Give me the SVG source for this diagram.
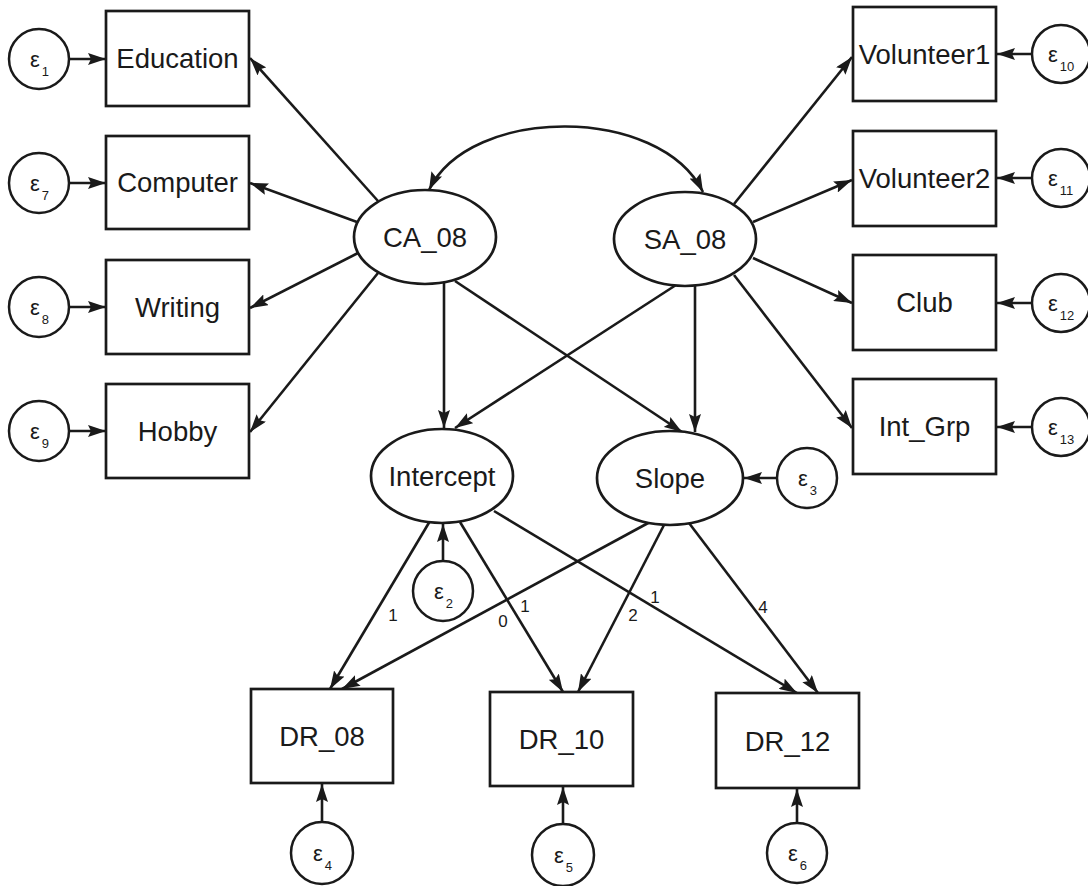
<svg xmlns="http://www.w3.org/2000/svg" width="1088" height="886" viewBox="0 0 1088 886">
<style>
.box{fill:#fff;stroke:#1a1a1a;stroke-width:2.7}
.lat{fill:#fff;stroke:#1a1a1a;stroke-width:2.7}
.err{fill:#fff;stroke:#1a1a1a;stroke-width:2.5}
.lbl{font-family:"Liberation Sans",Arial,sans-serif;font-size:27.5px;fill:#1a1a1a;text-anchor:middle}
.eps{font-family:"Liberation Sans",Arial,sans-serif;font-size:22px;fill:#1a1a1a}
.sub{font-size:13px;fill:#1a1a1a}
.num{font-family:"Liberation Sans",Arial,sans-serif;font-size:17px;fill:#1a1a1a;text-anchor:middle}
.c line,.c path{stroke:#1a1a1a;stroke-width:2.6;fill:none;marker-end:url(#ah)}
</style>
<defs>
<marker id="ah" viewBox="0 0 18 12" refX="18" refY="6" markerWidth="18" markerHeight="12" orient="auto-start-reverse" markerUnits="userSpaceOnUse">
<path d="M0,0 L18,6 L0,12 L3,6 z" fill="#1a1a1a"/>
</marker>
</defs>
<rect width="1088" height="886" fill="#fff"/>

<g id="connectors" class="c">
<line x1="70" y1="59" x2="106" y2="59"/>
<line x1="70" y1="183" x2="106" y2="183"/>
<line x1="70" y1="307" x2="106" y2="307"/>
<line x1="70" y1="431" x2="106" y2="431"/>
<line x1="1032" y1="54" x2="997" y2="54"/>
<line x1="1032" y1="178" x2="997" y2="178"/>
<line x1="1032" y1="303" x2="997" y2="303"/>
<line x1="1032" y1="427" x2="997" y2="427"/>
<line x1="378" y1="201" x2="250" y2="58"/>
<line x1="357" y1="222" x2="250" y2="183"/>
<line x1="358" y1="253" x2="250" y2="308"/>
<line x1="378" y1="273" x2="250" y2="432"/>
<line x1="734" y1="204" x2="852" y2="57"/>
<line x1="753" y1="222" x2="852" y2="180"/>
<line x1="753" y1="258" x2="852" y2="303"/>
<line x1="734" y1="275" x2="852" y2="428"/>
<path d="M 429 190 C 470 105 660 105 703 192" style="marker-start:url(#ah)"/>
<line x1="444" y1="283" x2="444" y2="428"/>
<line x1="455" y1="281" x2="682" y2="432"/>
<line x1="676" y1="285" x2="455" y2="428"/>
<line x1="695" y1="285" x2="695" y2="432"/>
<line x1="443" y1="561" x2="443" y2="524"/>
<line x1="777" y1="478" x2="744" y2="478"/>
<line x1="430" y1="521" x2="330" y2="689"/>
<line x1="650" y1="522" x2="342" y2="689"/>
<line x1="460" y1="522" x2="563" y2="692"/>
<line x1="664" y1="525" x2="578" y2="692"/>
<line x1="494" y1="511" x2="797" y2="693"/>
<line x1="689" y1="523" x2="818" y2="693"/>
<line x1="322" y1="823" x2="322" y2="784"/>
<line x1="563" y1="825" x2="563" y2="787"/>
<line x1="797" y1="823" x2="797" y2="789"/>
</g>

<g id="labels">
<text class="num" x="393" y="621">1</text>
<text class="num" x="503" y="627">0</text>
<text class="num" x="525" y="612">1</text>
<text class="num" x="633" y="621">2</text>
<text class="num" x="655" y="603">1</text>
<text class="num" x="763" y="613">4</text>
</g>

<g id="Education"><rect class="box" x="106" y="11" width="143" height="95"/><text class="lbl" x="177.5" y="68">Education</text></g>
<g id="Computer"><rect class="box" x="106" y="136" width="143" height="93"/><text class="lbl" x="177.5" y="192">Computer</text></g>
<g id="Writing"><rect class="box" x="106" y="260" width="143" height="94"/><text class="lbl" x="177.5" y="317">Writing</text></g>
<g id="Hobby"><rect class="box" x="106" y="384" width="143" height="94"/><text class="lbl" x="177.5" y="441">Hobby</text></g>

<g id="Volunteer1"><rect class="box" x="853" y="7" width="143" height="94"/><text class="lbl" x="924.5" y="64">Volunteer1</text></g>
<g id="Volunteer2"><rect class="box" x="853" y="131" width="143" height="95"/><text class="lbl" x="924.5" y="188">Volunteer2</text></g>
<g id="Club"><rect class="box" x="853" y="255" width="143" height="95"/><text class="lbl" x="924.5" y="312">Club</text></g>
<g id="Int_Grp"><rect class="box" x="853" y="379" width="143" height="95"/><text class="lbl" x="924.5" y="436">Int_Grp</text></g>

<g id="CA_08"><ellipse class="lat" cx="425" cy="237" rx="71" ry="47"/><text class="lbl" x="425" y="247">CA_08</text></g>
<g id="SA_08"><ellipse class="lat" cx="685" cy="239" rx="71" ry="47"/><text class="lbl" x="685" y="249">SA_08</text></g>
<g id="Intercept"><ellipse class="lat" cx="442" cy="476" rx="71" ry="47"/><text class="lbl" x="442" y="486">Intercept</text></g>
<g id="Slope"><ellipse class="lat" cx="670" cy="478" rx="73" ry="47"/><text class="lbl" x="670" y="488">Slope</text></g>

<g id="DR_08"><rect class="box" x="251" y="689" width="142" height="94"/><text class="lbl" x="322" y="746">DR_08</text></g>
<g id="DR_10"><rect class="box" x="490" y="692" width="143" height="94"/><text class="lbl" x="561.5" y="749">DR_10</text></g>
<g id="DR_12"><rect class="box" x="716" y="693" width="143" height="95"/><text class="lbl" x="787.5" y="751">DR_12</text></g>

<g id="e1"><circle class="err" cx="39" cy="59" r="30"/><text class="eps" x="30" y="67">ε<tspan class="sub" dx="2" dy="9">1</tspan></text></g>
<g id="e7"><circle class="err" cx="39" cy="183" r="30"/><text class="eps" x="30" y="191">ε<tspan class="sub" dx="2" dy="9">7</tspan></text></g>
<g id="e8"><circle class="err" cx="39" cy="307" r="30"/><text class="eps" x="30" y="315">ε<tspan class="sub" dx="2" dy="9">8</tspan></text></g>
<g id="e9"><circle class="err" cx="39" cy="431" r="30"/><text class="eps" x="30" y="439">ε<tspan class="sub" dx="2" dy="9">9</tspan></text></g>

<g id="e10"><circle class="err" cx="1061" cy="54" r="29"/><text class="eps" x="1048" y="62">ε<tspan class="sub" dx="2" dy="9">10</tspan></text></g>
<g id="e11"><circle class="err" cx="1061" cy="178" r="29"/><text class="eps" x="1048" y="186">ε<tspan class="sub" dx="2" dy="9">11</tspan></text></g>
<g id="e12"><circle class="err" cx="1061" cy="303" r="29"/><text class="eps" x="1048" y="311">ε<tspan class="sub" dx="2" dy="9">12</tspan></text></g>
<g id="e13"><circle class="err" cx="1061" cy="427" r="29"/><text class="eps" x="1048" y="435">ε<tspan class="sub" dx="2" dy="9">13</tspan></text></g>

<g id="e2"><circle class="err" cx="443" cy="591" r="30"/><text class="eps" x="434" y="599">ε<tspan class="sub" dx="2" dy="9">2</tspan></text></g>
<g id="e3"><circle class="err" cx="807" cy="478" r="30"/><text class="eps" x="798" y="486">ε<tspan class="sub" dx="2" dy="9">3</tspan></text></g>
<g id="e4"><circle class="err" cx="322" cy="853" r="31"/><text class="eps" x="313" y="861">ε<tspan class="sub" dx="2" dy="9">4</tspan></text></g>
<g id="e5"><circle class="err" cx="563" cy="855" r="31"/><text class="eps" x="554" y="863">ε<tspan class="sub" dx="2" dy="9">5</tspan></text></g>
<g id="e6"><circle class="err" cx="797" cy="853" r="30"/><text class="eps" x="788" y="861">ε<tspan class="sub" dx="2" dy="9">6</tspan></text></g>
</svg>
